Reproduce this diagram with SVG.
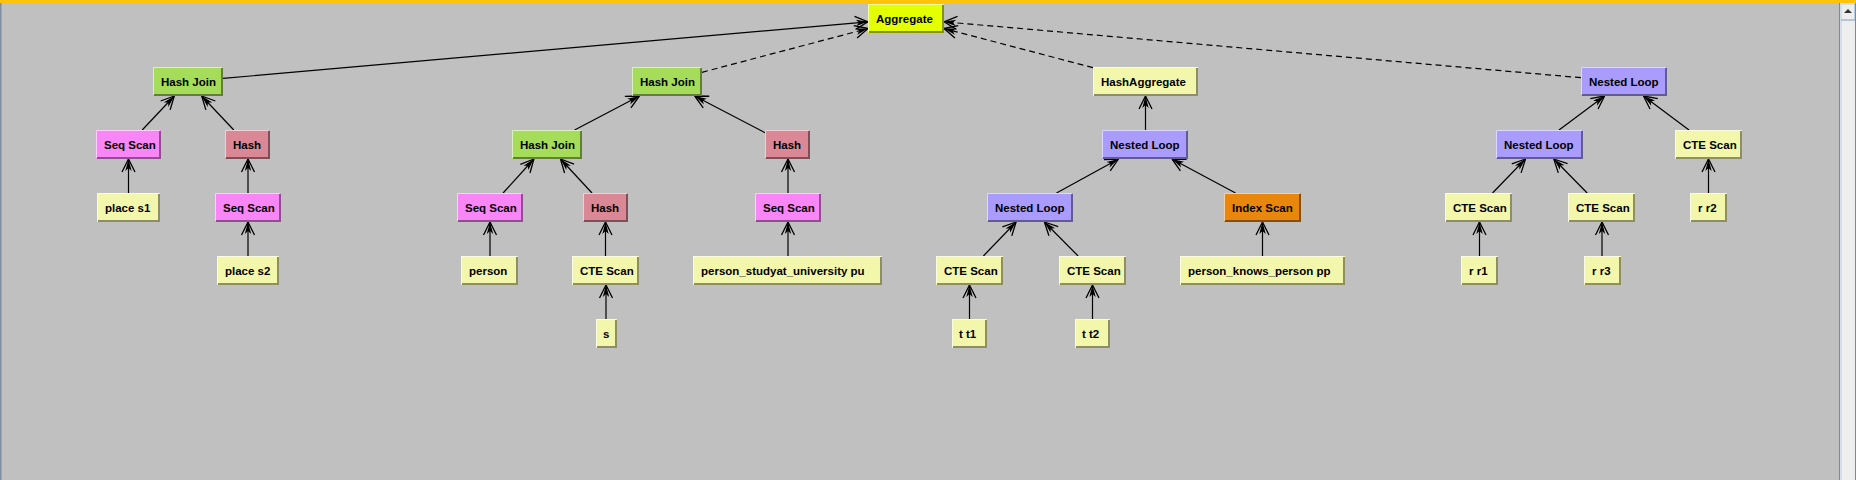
<svg xmlns="http://www.w3.org/2000/svg" width="1856" height="480" viewBox="0 0 1856 480">
<style>
.node text{font-family:"Liberation Sans",Arial,sans-serif;font-weight:bold;font-size:11.5px;fill:#000}
.hl{fill:none;stroke:#fff;stroke-opacity:.6;stroke-width:1}
.sh{fill:none;stroke:#000;stroke-opacity:.42;stroke-width:2}
.agg rect{fill:#E4FF00}
.hj rect{fill:#A5DC5A}
.ss rect{fill:#F986F6}
.hs rect{fill:#DA8896}
.lf rect{fill:#F3F7AB}
.nl rect{fill:#A99CFC}
.ix rect{fill:#E8870C}
.e{fill:none;stroke:#000;stroke-width:1.2;marker-end:url(#ah)}
.d{stroke-dasharray:6 4}
</style>
<defs>
<marker id="ah" viewBox="-15 -8 17 16" refX="0" refY="0" markerWidth="17" markerHeight="16" markerUnits="userSpaceOnUse" orient="auto" overflow="visible">
<path d="M0,0 L-13,-6.5 M0,0 L-13,6.5" fill="none" stroke="#000" stroke-width="1.3"/>
<path d="M0,0 L-12,-3.2 L-9,0 L-12,3.2 Z" fill="#000"/>
</marker>
</defs>
<rect x="0" y="0" width="1856" height="480" fill="#C0C0C0"/>
<rect x="0" y="0" width="1856" height="3" fill="#FFC20E"/>
<rect x="0" y="3" width="1.5" height="477" fill="#7F8FA0"/>
<g id="scrollbar">
<rect x="1839" y="3" width="17" height="477" fill="#EEEEEE"/>
<line x1="1839.5" y1="3" x2="1839.5" y2="480" stroke="#7A8A9A"/>
<line x1="1841" y1="20" x2="1841" y2="480" stroke="#B8CFE5"/>
<line x1="1855.5" y1="3" x2="1855.5" y2="480" stroke="#7A8A9A"/>
<rect x="1841" y="4" width="13.5" height="16" fill="#EEEEEE" stroke="#B8CFE5" stroke-width="1"/>
<line x1="1841" y1="20" x2="1855" y2="20" stroke="#9AAAB9"/>
<polygon points="1844,13 1852,13 1848,9" fill="#333"/>
</g>
<g id="connectors">
<path class="e" d="M223,78.4 L868,21.8"/>
<path class="e d" d="M702,72.3 L868,28.5"/>
<path class="e d" d="M1093,67.7 L944,28.5"/>
<path class="e d" d="M1581,77.7 L944,21.8"/>
<path class="e" d="M142.2,130 L174.3,96"/>
<path class="e" d="M233.8,130 L201.7,96"/>
<path class="e" d="M128.5,193 L128.5,159"/>
<path class="e" d="M248,193 L248,159"/>
<path class="e" d="M248,256 L248,222"/>
<path class="e" d="M574.6,130 L639.4,96"/>
<path class="e" d="M765,132.7 L694.7,96"/>
<path class="e" d="M503.1,193 L533.9,159"/>
<path class="e" d="M592,193 L560.5,159"/>
<path class="e" d="M490,256 L490,222"/>
<path class="e" d="M605.5,256 L605.5,222"/>
<path class="e" d="M606,319 L606,285"/>
<path class="e" d="M788,193 L788,159"/>
<path class="e" d="M788,256 L788,222"/>
<path class="e" d="M1145.5,130 L1145.5,96"/>
<path class="e" d="M1056.5,193 L1118.5,159"/>
<path class="e" d="M1235.5,193 L1172,159"/>
<path class="e" d="M983.4,256 L1016.1,222"/>
<path class="e" d="M1078.1,256 L1044.4,222"/>
<path class="e" d="M969.5,319 L969.5,285"/>
<path class="e" d="M1092.5,319 L1092.5,285"/>
<path class="e" d="M1262.5,256 L1262.5,222"/>
<path class="e" d="M1559,130 L1604.6,96"/>
<path class="e" d="M1689,130 L1643.5,96"/>
<path class="e" d="M1492.5,193 L1525.5,159"/>
<path class="e" d="M1587.2,193 L1553.8,159"/>
<path class="e" d="M1708.5,193 L1708.5,159"/>
<path class="e" d="M1479.5,256 L1479.5,222"/>
<path class="e" d="M1602,256 L1602,222"/>
</g>
<g id="n-agg" class="node agg"><rect x="868" y="4" width="76" height="29"/><path class="hl" d="M868.5,32 V4.5 H943"/><path class="sh" d="M943,5 V32 H869"/><text x="876" y="23">Aggregate</text></g>
<g id="n-hj1" class="node hj"><rect x="153" y="67" width="70" height="29"/><path class="hl" d="M153.5,95 V67.5 H222"/><path class="sh" d="M222,68 V95 H154"/><text x="161" y="86">Hash Join</text></g>
<g id="n-ss1" class="node ss"><rect x="96" y="130" width="65" height="29"/><path class="hl" d="M96.5,158 V130.5 H160"/><path class="sh" d="M160,131 V158 H97"/><text x="104" y="149">Seq Scan</text></g>
<g id="n-h1" class="node hs"><rect x="225" y="130" width="45" height="29"/><path class="hl" d="M225.5,158 V130.5 H269"/><path class="sh" d="M269,131 V158 H226"/><text x="233" y="149">Hash</text></g>
<g id="n-ps1" class="node lf"><rect x="97" y="193" width="63" height="29"/><path class="hl" d="M97.5,221 V193.5 H159"/><path class="sh" d="M159,194 V221 H98"/><text x="105" y="212">place s1</text></g>
<g id="n-ss2" class="node ss"><rect x="215" y="193" width="66" height="29"/><path class="hl" d="M215.5,221 V193.5 H280"/><path class="sh" d="M280,194 V221 H216"/><text x="223" y="212">Seq Scan</text></g>
<g id="n-ps2" class="node lf"><rect x="217" y="256" width="62" height="29"/><path class="hl" d="M217.5,284 V256.5 H278"/><path class="sh" d="M278,257 V284 H218"/><text x="225" y="275">place s2</text></g>
<g id="n-hj2" class="node hj"><rect x="632" y="67" width="70" height="29"/><path class="hl" d="M632.5,95 V67.5 H701"/><path class="sh" d="M701,68 V95 H633"/><text x="640" y="86">Hash Join</text></g>
<g id="n-hj3" class="node hj"><rect x="512" y="130" width="70" height="29"/><path class="hl" d="M512.5,158 V130.5 H581"/><path class="sh" d="M581,131 V158 H513"/><text x="520" y="149">Hash Join</text></g>
<g id="n-h2" class="node hs"><rect x="765" y="130" width="45" height="29"/><path class="hl" d="M765.5,158 V130.5 H809"/><path class="sh" d="M809,131 V158 H766"/><text x="773" y="149">Hash</text></g>
<g id="n-ss3" class="node ss"><rect x="457" y="193" width="66" height="29"/><path class="hl" d="M457.5,221 V193.5 H522"/><path class="sh" d="M522,194 V221 H458"/><text x="465" y="212">Seq Scan</text></g>
<g id="n-h3" class="node hs"><rect x="583" y="193" width="45" height="29"/><path class="hl" d="M583.5,221 V193.5 H627"/><path class="sh" d="M627,194 V221 H584"/><text x="591" y="212">Hash</text></g>
<g id="n-ss4" class="node ss"><rect x="755" y="193" width="66" height="29"/><path class="hl" d="M755.5,221 V193.5 H820"/><path class="sh" d="M820,194 V221 H756"/><text x="763" y="212">Seq Scan</text></g>
<g id="n-person" class="node lf"><rect x="461" y="256" width="57" height="29"/><path class="hl" d="M461.5,284 V256.5 H517"/><path class="sh" d="M517,257 V284 H462"/><text x="469" y="275">person</text></g>
<g id="n-cte1" class="node lf"><rect x="572" y="256" width="67" height="29"/><path class="hl" d="M572.5,284 V256.5 H638"/><path class="sh" d="M638,257 V284 H573"/><text x="580" y="275">CTE Scan</text></g>
<g id="n-psu" class="node lf"><rect x="693" y="256" width="189" height="29"/><path class="hl" d="M693.5,284 V256.5 H881"/><path class="sh" d="M881,257 V284 H694"/><text x="701" y="275">person_studyat_university pu</text></g>
<g id="n-s" class="node lf"><rect x="596" y="319" width="21" height="29"/><path class="hl" d="M596.5,347 V319.5 H616"/><path class="sh" d="M616,320 V347 H597"/><text x="603" y="338">s</text></g>
<g id="n-ha" class="node lf"><rect x="1093" y="67" width="105" height="29"/><path class="hl" d="M1093.5,95 V67.5 H1197"/><path class="sh" d="M1197,68 V95 H1094"/><text x="1101" y="86">HashAggregate</text></g>
<g id="n-nl1" class="node nl"><rect x="1102" y="130" width="86" height="29"/><path class="hl" d="M1102.5,158 V130.5 H1187"/><path class="sh" d="M1187,131 V158 H1103"/><text x="1110" y="149">Nested Loop</text></g>
<g id="n-nl2" class="node nl"><rect x="987" y="193" width="86" height="29"/><path class="hl" d="M987.5,221 V193.5 H1072"/><path class="sh" d="M1072,194 V221 H988"/><text x="995" y="212">Nested Loop</text></g>
<g id="n-is" class="node ix"><rect x="1224" y="193" width="77" height="29"/><path class="hl" d="M1224.5,221 V193.5 H1300"/><path class="sh" d="M1300,194 V221 H1225"/><text x="1232" y="212">Index Scan</text></g>
<g id="n-cte2" class="node lf"><rect x="936" y="256" width="67" height="29"/><path class="hl" d="M936.5,284 V256.5 H1002"/><path class="sh" d="M1002,257 V284 H937"/><text x="944" y="275">CTE Scan</text></g>
<g id="n-cte3" class="node lf"><rect x="1059" y="256" width="67" height="29"/><path class="hl" d="M1059.5,284 V256.5 H1125"/><path class="sh" d="M1125,257 V284 H1060"/><text x="1067" y="275">CTE Scan</text></g>
<g id="n-pkp" class="node lf"><rect x="1180" y="256" width="165" height="29"/><path class="hl" d="M1180.5,284 V256.5 H1344"/><path class="sh" d="M1344,257 V284 H1181"/><text x="1188" y="275">person_knows_person pp</text></g>
<g id="n-tt1" class="node lf"><rect x="952" y="319" width="35" height="29"/><path class="hl" d="M952.5,347 V319.5 H986"/><path class="sh" d="M986,320 V347 H953"/><text x="959" y="338">t t1</text></g>
<g id="n-tt2" class="node lf"><rect x="1075" y="319" width="35" height="29"/><path class="hl" d="M1075.5,347 V319.5 H1109"/><path class="sh" d="M1109,320 V347 H1076"/><text x="1082" y="338">t t2</text></g>
<g id="n-nl3" class="node nl"><rect x="1581" y="67" width="86" height="29"/><path class="hl" d="M1581.5,95 V67.5 H1666"/><path class="sh" d="M1666,68 V95 H1582"/><text x="1589" y="86">Nested Loop</text></g>
<g id="n-nl4" class="node nl"><rect x="1496" y="130" width="87" height="29"/><path class="hl" d="M1496.5,158 V130.5 H1582"/><path class="sh" d="M1582,131 V158 H1497"/><text x="1504" y="149">Nested Loop</text></g>
<g id="n-cte4" class="node lf"><rect x="1675" y="130" width="67" height="29"/><path class="hl" d="M1675.5,158 V130.5 H1741"/><path class="sh" d="M1741,131 V158 H1676"/><text x="1683" y="149">CTE Scan</text></g>
<g id="n-cte5" class="node lf"><rect x="1445" y="193" width="67" height="29"/><path class="hl" d="M1445.5,221 V193.5 H1511"/><path class="sh" d="M1511,194 V221 H1446"/><text x="1453" y="212">CTE Scan</text></g>
<g id="n-cte6" class="node lf"><rect x="1568" y="193" width="67" height="29"/><path class="hl" d="M1568.5,221 V193.5 H1634"/><path class="sh" d="M1634,194 V221 H1569"/><text x="1576" y="212">CTE Scan</text></g>
<g id="n-rr2" class="node lf"><rect x="1690" y="193" width="37" height="29"/><path class="hl" d="M1690.5,221 V193.5 H1726"/><path class="sh" d="M1726,194 V221 H1691"/><text x="1698" y="212">r r2</text></g>
<g id="n-rr1" class="node lf"><rect x="1461" y="256" width="37" height="29"/><path class="hl" d="M1461.5,284 V256.5 H1497"/><path class="sh" d="M1497,257 V284 H1462"/><text x="1469" y="275">r r1</text></g>
<g id="n-rr3" class="node lf"><rect x="1584" y="256" width="37" height="29"/><path class="hl" d="M1584.5,284 V256.5 H1620"/><path class="sh" d="M1620,257 V284 H1585"/><text x="1592" y="275">r r3</text></g>
</svg>
